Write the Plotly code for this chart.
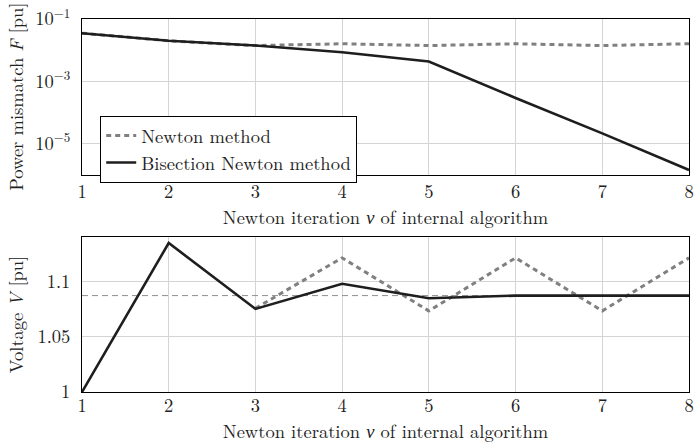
import plotly.graph_objects as go
from plotly.subplots import make_subplots

iterations = [1, 2, 3, 4, 5, 6, 7, 8]
mismatch_newton = [0.035, 0.020, 0.014, 0.016, 0.014, 0.016, 0.014, 0.016]
mismatch_bisection = [0.035, 0.020, 0.014, 0.0085, 0.0043, 2.9e-4, 2.1e-5, 1.4e-6]
voltage_newton = [1.0, 1.1343, 1.0755, 1.1209, 1.0731, 1.1209, 1.0731, 1.1209]
voltage_bisection = [1.0, 1.1343, 1.0749, 1.0976, 1.0845, 1.0869, 1.0869, 1.0869]
voltage_reference = 1.0869

x_ticks = [1, 2, 3, 4, 5, 6, 7, 8]
log_ticks = [1e-1, 1e-3, 1e-5]
log_tick_text = ["10<sup>−1</sup>", "10<sup>−3</sup>", "10<sup>−5</sup>"]
v_ticks = [1.0, 1.05, 1.1]
v_tick_text = ["1", "1.05", "1.1"]

FONT = "Latin Modern Roman, CMU Serif, Liberation Serif, serif"
FS = 18.5
GRAY = "#808080"
BLACK = "#1e1e1e"
GRID = "#d4d4d4"
TXT = "#222222"
NEWTON_DASH = "5px,4px"

TOP_DOMAIN = [0.583, 1.0]
BOT_DOMAIN = [0.0, 0.4164]

fig = make_subplots(rows=2, cols=1, vertical_spacing=0.0)

fig.add_trace(go.Scatter(x=iterations, y=mismatch_newton, mode="lines", name="Newton method",
                         line=dict(color=GRAY, width=3, dash=NEWTON_DASH)), row=1, col=1)
fig.add_trace(go.Scatter(x=iterations, y=mismatch_bisection, mode="lines", name="Bisection Newton method",
                         line=dict(color=BLACK, width=2.6)), row=1, col=1)

fig.add_trace(go.Scatter(x=[iterations[0], iterations[-1]], y=[voltage_reference, voltage_reference],
                         mode="lines", showlegend=False,
                         line=dict(color="#909090", width=1, dash="6px,4px")), row=2, col=1)
fig.add_trace(go.Scatter(x=iterations[2:], y=voltage_newton[2:], mode="lines", showlegend=False,
                         line=dict(color=GRAY, width=3, dash=NEWTON_DASH)), row=2, col=1)
fig.add_trace(go.Scatter(x=iterations, y=voltage_bisection, mode="lines", showlegend=False,
                         line=dict(color=BLACK, width=2.6)), row=2, col=1)

axis_common = dict(showline=True, linecolor="black", linewidth=1, mirror=True,
                   showgrid=True, gridcolor=GRID, gridwidth=1, zeroline=False,
                   automargin=False,
                   ticks="", tickfont=dict(family=FONT, size=FS, color=TXT))

xtitle = "Newton iteration <i>ν</i> of internal algorithm"
fig.update_xaxes(range=[1, 8], tickvals=x_ticks, ticktext=[str(v) for v in x_ticks],
                 ticklabelstandoff=0, ticklabeloverflow="allow",
                 title=dict(text=xtitle, font=dict(family=FONT, size=FS, color=TXT), standoff=6),
                 **axis_common)
fig.update_yaxes(**axis_common)

fig.update_layout(
    xaxis=dict(domain=[0, 1]),
    yaxis=dict(type="log", range=[-6, -1], tickvals=log_ticks, ticktext=log_tick_text,
               domain=TOP_DOMAIN, ticklabelstandoff=7, ticklabeloverflow="allow"),
    xaxis2=dict(domain=[0, 1], ticklabelstandoff=-3,
                title=dict(text=xtitle, font=dict(family=FONT, size=FS, color=TXT), standoff=5)),
    yaxis2=dict(range=[1.0, 1.14], tickvals=v_ticks, ticktext=v_tick_text,
                domain=BOT_DOMAIN, ticklabelstandoff=7, ticklabeloverflow="allow"),
    width=694, height=448,
    margin=dict(l=82, r=5, t=19, b=56),
    paper_bgcolor="white", plot_bgcolor="white",
    font=dict(family=FONT, size=FS, color=TXT),
    legend=dict(x=0.03, y=0.74, xanchor="left", yanchor="top",
                bordercolor="black", borderwidth=1, bgcolor="white",
                font=dict(family=FONT, size=FS, color=TXT),
                tracegroupgap=0, itemwidth=30),
)

ytitle_x = (15 - 82) / 607
for text, dom in [("Power mismatch <i>F</i> [pu]", TOP_DOMAIN), ("Voltage <i>V</i> [pu]", BOT_DOMAIN)]:
    fig.add_annotation(text=text, xref="paper", yref="paper", x=ytitle_x, y=(dom[0] + dom[1]) / 2,
                       xanchor="center", yanchor="middle", textangle=-90, showarrow=False,
                       font=dict(family=FONT, size=FS, color=TXT))

fig.write_html("out.html", config={"displayModeBar": False},
               post_script="document.body.style.margin='0';document.body.style.overflow='hidden';")
